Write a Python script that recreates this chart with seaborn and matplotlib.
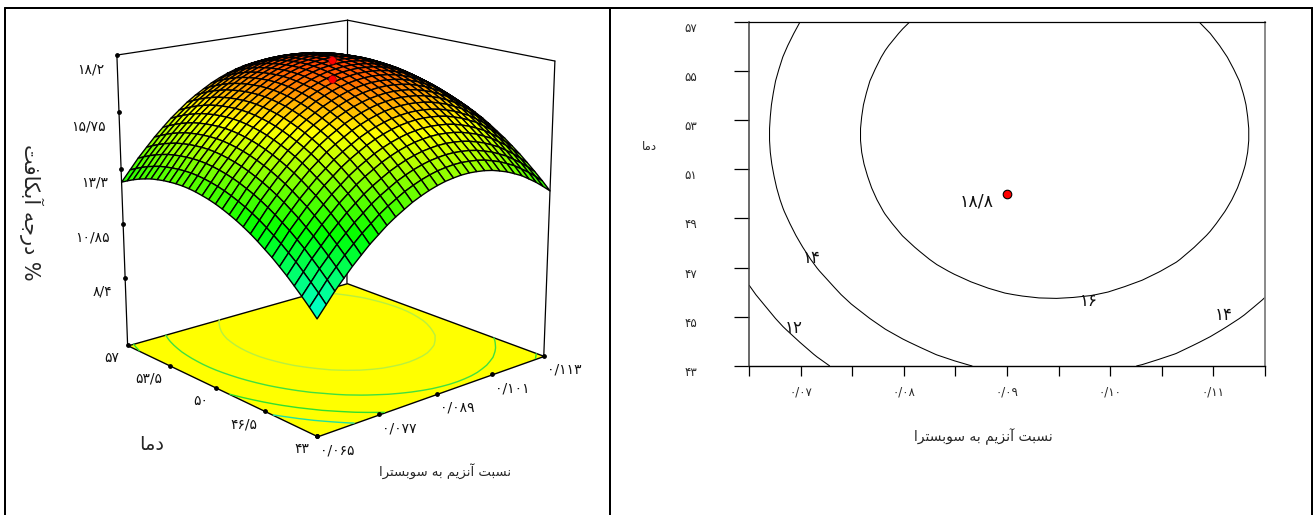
import numpy as np
import matplotlib
matplotlib.use("Agg")
import matplotlib.pyplot as plt
from matplotlib.colors import LinearSegmentedColormap, Normalize
from matplotlib.lines import Line2D
from mpl_toolkits.mplot3d import proj3d
from mpl_toolkits.mplot3d.art3d import Poly3DCollection
import seaborn as sns

# ── Data ───────────────────────────────────────────────────────────────────────
ratio_nodes = [.0650, .0667, .0683, .0700, .0716, .0733, .0749, .0766, .0782, .0799, .0816,
               .0832, .0849, .0865, .0882, .0898, .0915, .0931, .0948, .0964, .0981, .0998,
               .1014, .1031, .1047, .1064, .1080, .1097, .1113, .1130, .1147, .1163]
temp_nodes = [43, 43.48, 43.97, 44.45, 44.93, 45.41, 45.90, 46.38, 46.86, 47.34, 47.83, 48.31,
              48.79, 49.28, 49.76, 50.24, 50.72, 51.21, 51.69, 52.17, 52.66, 53.14, 53.62,
              54.10, 54.59, 55.07, 55.55, 56.03, 56.52, 57]
# ridge profiles of the response through its peak
yield_vs_ratio = [13.46, 13.92, 14.36, 14.77, 15.15, 15.51, 15.84, 16.14, 16.42, 16.67, 16.89,
                  17.09, 17.26, 17.40, 17.52, 17.61, 17.67, 17.71, 17.72, 17.70, 17.66, 17.59,
                  17.49, 17.37, 17.22, 17.05, 16.84, 16.61, 16.36, 16.08, 15.76, 15.43]
yield_vs_temp = [14.31, 14.65, 14.97, 15.27, 15.56, 15.82, 16.08, 16.30, 16.52, 16.72, 16.90,
                 17.06, 17.20, 17.33, 17.44, 17.53, 17.60, 17.66, 17.70, 17.72, 17.72, 17.70,
                 17.67, 17.62, 17.56, 17.47, 17.37, 17.25, 17.11, 16.96]
peak_yield = 17.72

z_ticks = [18.2, 15.75, 13.3, 10.85, 8.4]
z_labels = ["۱۸/۲", "۱۵/۷۵", "۱۳/۳", "۱۰/۸۵", "۸/۴"]
temp_ticks = [57, 53.5, 50, 46.5, 43]
temp_labels = ["۵۷", "۵۳/۵", "۵۰", "۴۶/۵", "۴۳"]
ratio_ticks = [.065, .077, .089, .101, .113]
ratio_labels = ["۰/۰۶۵", "۰/۰۷۷", "۰/۰۸۹", "۰/۱۰۱", "۰/۱۱۳"]
floor_z = 5.27
floor_levels = [11.85, 13, 14.6, 16.4]
floor_colors = ["#20e0a0", "#30e030", "#40e040", "#b8f040"]
design_ratio = [.09, .09]
design_temp = [50.5, 50.5]
design_yield = [18.0, 17.2]

contour_levels = [12, 14, 16]
contour_text = ["۱۲", "۱۴", "۱۴", "۱۶"]
contour_text_x = [.0693, .0711, .1110, .0979]
contour_text_y = [44.55, 47.39, 45.07, 45.64]
peak_label = "۱۸/۸"
peak_ratio = [.09]
peak_temp = [50]
right_xticks = [.065, .07, .075, .08, .085, .09, .095, .10, .105, .11, .115]
right_xlabels = ["", "۰/۰۷", "", "۰/۰۸", "", "۰/۰۹", "", "۰/۱۰", "", "۰/۱۱", ""]
right_yticks = [43, 45, 47, 49, 51, 53, 55, 57]
right_ylabels = ["۴۳", "۴۵", "۴۷", "۴۹", "۵۱", "۵۳", "۵۵", "۵۷"]

# ── Persian text: matplotlib does no shaping, so pick the joined forms ourselves ──
FORMS = {
    "ا": (0xFE8D, 0xFE8E), "آ": (0xFE81, 0xFE82), "د": (0xFEA9, 0xFEAA), "ر": (0xFEAD, 0xFEAE),
    "ز": (0xFEAF, 0xFEB0), "و": (0xFEED, 0xFEEE),
    "ب": (0xFE8F, 0xFE90, 0xFE91, 0xFE92), "ت": (0xFE95, 0xFE96, 0xFE97, 0xFE98),
    "ج": (0xFE9D, 0xFE9E, 0xFE9F, 0xFEA0), "س": (0xFEB1, 0xFEB2, 0xFEB3, 0xFEB4),
    "ف": (0xFED1, 0xFED2, 0xFED3, 0xFED4), "ک": (0xFB8E, 0xFB8F, 0xFB90, 0xFB91),
    "م": (0xFEE1, 0xFEE2, 0xFEE3, 0xFEE4), "ن": (0xFEE5, 0xFEE6, 0xFEE7, 0xFEE8),
    "ه": (0xFEE9, 0xFEEA, 0xFEEB, 0xFEEC), "ی": (0xFBFC, 0xFBFD, 0xFBFE, 0xFBFF),
}


def fa(text):
    out = []
    for i, ch in enumerate(text):
        if ch not in FORMS:
            out.append(ch)
            continue
        prev = text[i - 1] if i else " "
        nxt = text[i + 1] if i + 1 < len(text) else " "
        joins_prev = prev in FORMS and len(FORMS[prev]) == 4
        joins_next = nxt in FORMS and len(FORMS[ch]) == 4
        form = {(0, 0): 0, (1, 0): 1, (0, 1): 2, (1, 1): 3}[(int(joins_prev), int(joins_next))]
        out.append(chr(FORMS[ch][form]))
    return "".join(reversed(out))


# ── Layout ─────────────────────────────────────────────────────────────────────
W, H = 1313, 515
sns.set_theme(style="white")
plt.rcParams["font.family"] = "DejaVu Sans"
fig = plt.figure(figsize=(W / 100, H / 100), dpi=100, facecolor="white")


def fx(px):
    return px / W


def fy(py):
    return 1 - py / H


for xs, ys, lw in [((5, 5), (8, H), 2.0), ((5, W), (8, 8), 2.0),
                   ((610, 610), (8, H), 2.0), ((1311.5, 1311.5), (8, H), 3.0)]:
    fig.add_artist(Line2D([fx(x) for x in xs], [fy(y) for y in ys], color="black", lw=lw * 0.72))

ratio = np.array(ratio_nodes)
temp = np.array(temp_nodes)
Z = np.add.outer(np.array(yield_vs_temp), np.array(yield_vs_ratio)) - peak_yield

# ── Left: response surface ─────────────────────────────────────────────────────
side = 515
ax3d = fig.add_axes([fx(327 - side / 2), 0.0825, side / W, side / H],
                    projection="3d", computed_zorder=False)
ax3d.set_proj_type("persp", focal_length=0.6)
ax3d.view_init(elev=16.3, azim=-131)
ax3d.set_box_aspect((1, 1, 1.007), zoom=0.99)
r0, r1, t0, t1, z1 = ratio_ticks[0], ratio_ticks[-1], temp_ticks[-1], temp_ticks[0], z_ticks[0]
ax3d.set_xlim(r0, r1, view_margin=0)
ax3d.set_ylim(t0, t1, view_margin=0)
ax3d.set_zlim(floor_z, z1, view_margin=0)
ax3d.set_axis_off()
ax3d.patch.set_alpha(0)

surface_cmap = LinearSegmentedColormap.from_list(
    "response", [(0.0, "#00ffc0"), (0.30, "#00ff00"), (0.725, "#ffff00"), (1.0, "#ff3c00")])
norm = Normalize(10.0, 17.72)

box_kw = dict(color="black", lw=0.9)
# back edges go behind the surface
ax3d.plot([r1, r1], [t1, t1], [floor_z, z1], zorder=0, **box_kw)
ax3d.plot([r0, r1], [t1, t1], [z1, z1], zorder=0, **box_kw)
ax3d.plot([r1, r1], [t0, t1], [z1, z1], zorder=0, **box_kw)

floor = Poly3DCollection([[(r0, t0, floor_z), (r1, t0, floor_z), (r1, t1, floor_z), (r0, t1, floor_z)]],
                         facecolor="#ffff00", edgecolor="black", linewidth=1.0, zorder=1)
ax3d.add_collection3d(floor)
n = len(temp)
ax3d.contour(ratio[:n], temp, Z[:, :n], levels=floor_levels, zdir="z", offset=floor_z,
             colors=floor_colors, linewidths=1.0, zorder=2)
ax3d.plot([r0, r0], [t1, t1], [floor_z, z1], zorder=2, **box_kw)
ax3d.plot([r1, r1], [t0, t0], [floor_z, z1], zorder=2, **box_kw)

ax3d.plot_surface(ratio[:n][None, :].repeat(n, 0), temp[:, None].repeat(n, 1), Z[:, :n],
                  rstride=1, cstride=1, facecolors=surface_cmap(norm(Z[:, :n])), shade=False,
                  edgecolor="black", linewidth=1.0, zorder=3)
ax3d.scatter(design_ratio, design_temp, design_yield, s=30, c="#ff0000", edgecolors="#800000",
             linewidths=0.4, depthshade=False, zorder=4)

M = ax3d.get_proj()


def tick_label(x, y, z, text, dx, dy, ha):
    px, py, _ = proj3d.proj_transform(x, y, z, M)
    ax3d.annotate(text, xy=(px, py), xycoords="data", xytext=(dx, dy), textcoords="offset pixels",
                  ha=ha, va="center", fontsize=10, color="#111111", annotation_clip=False)


dot_kw = dict(s=6, c="black", depthshade=False, zorder=2)
ax3d.scatter([r0] * len(z_ticks), [t1] * len(z_ticks), z_ticks, **dot_kw)
ax3d.scatter([r0] * len(temp_ticks), temp_ticks, [floor_z] * len(temp_ticks), **dot_kw)
ax3d.scatter(ratio_ticks, [t0] * len(ratio_ticks), [floor_z] * len(ratio_ticks), **dot_kw)
for z, s in zip(z_ticks, z_labels):
    tick_label(r0, t1, z, s, -13, -14, "right")
for t, s in zip(temp_ticks, temp_labels):
    tick_label(r0, t, floor_z, s, -8, -13, "right")
for r, s in zip(ratio_ticks, ratio_labels):
    tick_label(r, t0, floor_z, s, 3, -14, "left")

fig.text(fx(31), fy(212), fa("% درجه آبکافت"), rotation=-90, ha="center", va="center", fontsize=15)
fig.text(fx(152), fy(445), fa("دما"), ha="center", va="center", fontsize=14)
fig.text(fx(445), fy(471), fa("نسبت آنزیم به سوبسترا"), ha="center", va="center", fontsize=9.5)

# ── Right: contour plot ────────────────────────────────────────────────────────
ax = fig.add_axes([fx(749), fy(366), fx(1265 - 749), (366 - 21.7) / H])
ax.contour(ratio, temp, Z, levels=contour_levels, colors="black", linewidths=0.75)
sns.scatterplot(x=peak_ratio, y=peak_temp, color="#ff0000", edgecolor="black", linewidth=0.8,
                s=38, zorder=5, legend=False, ax=ax)
ax.set_xlim(right_xticks[0], right_xticks[-1])
ax.set_ylim(right_yticks[0], right_yticks[-1])
ax.set_xticks(right_xticks)
ax.set_xticklabels(right_xlabels, fontsize=8.5)
ax.set_yticks(right_yticks)
ax.set_yticklabels(right_ylabels, fontsize=8.5, va="top")
ax.tick_params(axis="x", direction="out", length=7.5, width=0.9, pad=6.5, bottom=True, color="black")
ax.tick_params(axis="y", direction="out", length=10.5, width=0.9, pad=27, left=True, color="black")
for name, color, lw in [("left", "#404040", 1.1), ("bottom", "black", 1.0),
                        ("top", "black", 0.9), ("right", "#808080", 1.3)]:
    ax.spines[name].set_visible(True)
    ax.spines[name].set_color(color)
    ax.spines[name].set_linewidth(lw)
for tx, ty, s in zip(contour_text_x, contour_text_y, contour_text):
    ax.text(tx, ty, s, ha="center", va="center", fontsize=12, color="#111111")
ax.text(.08704, 49.67, peak_label, ha="center", va="center", fontsize=12.5, color="#111111")
fig.text(fx(983), fy(437), fa("نسبت آنزیم به سوبسترا"), ha="center", va="center", fontsize=10)
fig.text(fx(649), fy(147), fa("دما"), ha="center", va="center", fontsize=8.5)

fig.savefig("out.png", dpi=100)
